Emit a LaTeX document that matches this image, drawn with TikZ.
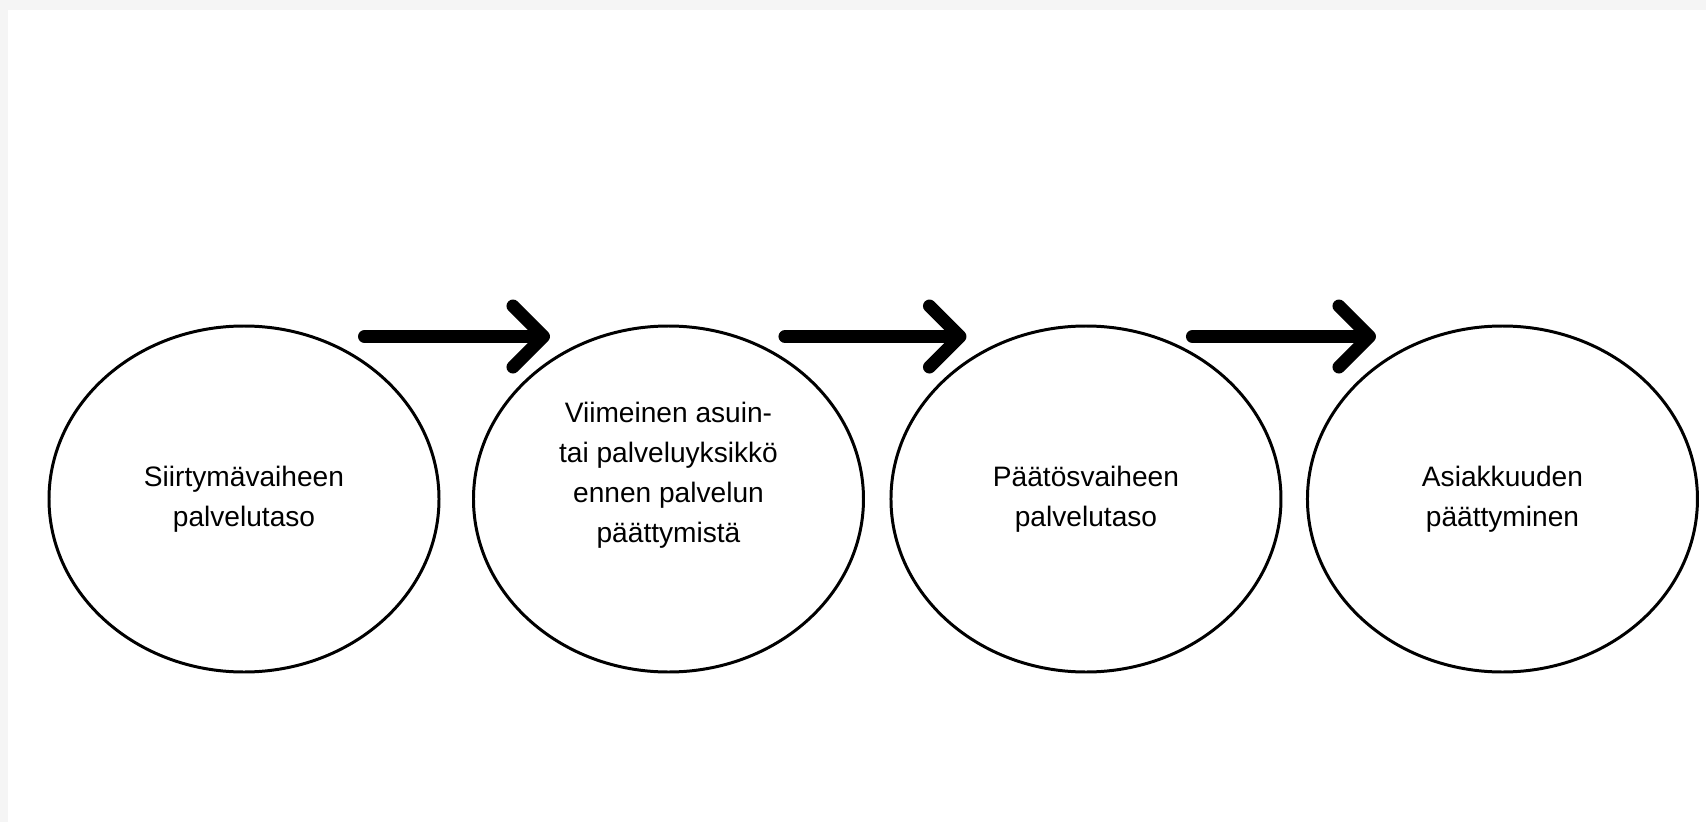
\documentclass[tikz,border=0pt]{standalone}
\usepackage{fontspec}
\setmainfont{Liberation Sans}
\usepackage{xcolor}
\usepackage{tikz}
\usetikzlibrary{positioning, shapes.geometric, arrows.meta}

\tikzset{
    stage/.style={ellipse, draw, line width=1.7pt, minimum width=7.8cm, minimum height=6.92cm,
        inner sep=0pt, align=center, font=\fontsize{16}{22.8}\selectfont},
    stagetext/.style={align=center, font=\fontsize{16}{22.8}\selectfont},
    flow/.style={line width=7.4pt, line cap=round, -{Straight Barb[length=0.61cm, width=1.22cm, round]}},
}

\begin{document}
\begin{tikzpicture}
    \useasboundingbox (0,0) rectangle (34.12,16.44);
    \fill[black!4] (0,0) rectangle (34.12,16.44);
    \fill[white] (0.16,0) rectangle (34.12,16.24);
    \node[stage] (s1) at (4.88,6.46) {Siirtymävaiheen\\palvelutaso};
    \node[stage, right=0.63cm of s1,
        label={[name=t2, stagetext, yshift=0.48cm]center:{Viimeinen asuin-\\tai palveluyksikkö\\ennen palvelun\\päättymistä}}] (s2) {};
    \node[stage, right=0.49cm of s2] (s3) {Päätösvaiheen\\palvelutaso};
    \node[stage, right=0.47cm of s3] (s4) {Asiakkuuden\\päättyminen};
    \draw[flow] ([xshift=2.41cm, yshift=-0.24cm]s1.north) -- ([xshift=-2.37cm, yshift=-0.24cm]s2.north);
    \draw[flow] ([xshift=2.33cm, yshift=-0.24cm]s2.north) -- ([xshift=-2.39cm, yshift=-0.24cm]s3.north);
    \draw[flow] ([xshift=2.13cm, yshift=-0.24cm]s3.north) -- ([xshift=-2.53cm, yshift=-0.24cm]s4.north);
\end{tikzpicture}
\end{document}
